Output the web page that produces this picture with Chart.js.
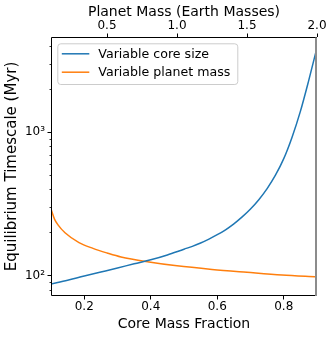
<!DOCTYPE html>
<html lang="en">
<head>
<meta charset="UTF-8">
<title>Equilibrium Timescale</title>
<script src="https://cdn.jsdelivr.net/npm/chart.js@4"></script>
<style>
    html, body { margin: 0; padding: 0; background: #fff; }
    #wrap { width: 333px; height: 337px; }
</style>
</head>
<body>
<div id="wrap"><canvas id="chart" width="333" height="337"></canvas></div>
<script>
    // series 1: timescale vs core mass fraction (bottom axis)
    const coreFraction = [0.10, 0.15, 0.20, 0.25, 0.30, 0.35, 0.40, 0.45, 0.50, 0.525, 0.55, 0.575, 0.60, 0.625, 0.65, 0.675, 0.70, 0.725, 0.75, 0.775, 0.80, 0.825, 0.85, 0.875, 0.90];
    const coreTimescale = [87.5, 93, 99.5, 106, 113, 121, 129, 139.5, 153, 160, 169, 180, 193, 209, 230, 257, 292, 339, 405, 502, 655, 925, 1400, 2296, 3900];

    // series 2: timescale vs planet mass (top axis)
    const planetMass = [0.1, 0.125, 0.15, 0.2, 0.3, 0.4, 0.5, 0.6, 0.8, 1.0, 1.25, 1.5, 1.75, 2.0];
    const massTimescale = [292, 248, 226, 199, 170, 155, 144, 135, 124.5, 117, 110.5, 105.5, 101, 98];

    const seriesLabels = ['Variable core size', 'Variable planet mass'];
    const seriesColors = ['#1f77b4', '#ff7f0e'];

    const coreTicks = [0.2, 0.4, 0.6, 0.8];
    const massTicks = [0.5, 1.0, 1.5, 2.0];
    const yMajor = [100, 1000];
    const yMinor = [80, 90, 200, 300, 400, 500, 600, 700, 800, 900, 2000, 3000, 4000];

    const FONT = 'DejaVu Sans';

    // spines + minor log ticks
    const frame = {
        id: 'frame',
        afterDatasetsDraw(chart) {
            const { ctx, chartArea: a, scales } = chart;
            const l = Math.round(a.left) + 0.5, r = Math.round(a.right), t = Math.round(a.top) + 0.5, b = Math.round(a.bottom) - 0.5;
            ctx.save();
            ctx.strokeStyle = '#000';
            ctx.lineWidth = 1;
            ctx.beginPath();
            ctx.moveTo(l, t); ctx.lineTo(l, b); ctx.lineTo(r, b);
            ctx.moveTo(l, t); ctx.lineTo(r, t);
            ctx.stroke();
            ctx.strokeStyle = '#8c8c8c';
            ctx.lineWidth = 2;
            ctx.beginPath();
            ctx.moveTo(r - 1, t); ctx.lineTo(r - 1, b + 0.5);
            ctx.stroke();
            ctx.strokeStyle = '#000';
            ctx.lineWidth = 0.8;
            yMinor.forEach(v => {
                const y = Math.round(scales.y.getPixelForValue(v)) + 0.5;
                ctx.beginPath();
                ctx.moveTo(l, y); ctx.lineTo(l - 2, y);
                ctx.stroke();
            });
            ctx.restore();
        }
    };

    // matplotlib-style legend box in the upper left
    const boxLegend = {
        id: 'boxLegend',
        afterDraw(chart) {
            const { ctx, chartArea: a } = chart;
            const x0 = a.left + 6.3, y0 = a.top + 6.3, w = 180, h = 40.7;
            ctx.save();
            ctx.fillStyle = 'rgba(255,255,255,0.8)';
            ctx.strokeStyle = '#cccccc';
            ctx.lineWidth = 1;
            ctx.beginPath();
            ctx.roundRect(x0 + 0.5, y0 + 0.5, w, h, 3);
            ctx.fill();
            ctx.stroke();
            ctx.font = '12.6px "' + FONT + '"';
            ctx.textBaseline = 'middle';
            ctx.fillStyle = '#000';
            chart.data.datasets.forEach((ds, i) => {
                const y = y0 + 10.5 + i * 18.4;
                ctx.strokeStyle = ds.borderColor;
                ctx.lineWidth = 1.5;
                ctx.beginPath();
                ctx.moveTo(x0 + 4.5, y); ctx.lineTo(x0 + 32, y);
                ctx.stroke();
                ctx.fillText(ds.label, x0 + 41, y + 0.5);
            });
            ctx.restore();
        }
    };

    const tickFont = { family: FONT, size: 12, lineHeight: 1.2 };
    const titleFont = { family: FONT, size: 14, lineHeight: 1.2 };
    const yTitleFont = { family: FONT, size: 15, lineHeight: 1.2 };

    new Chart(document.getElementById('chart'), {
        type: 'line',
        data: {
            datasets: [
                {
                    label: seriesLabels[0],
                    data: coreFraction.map((x, i) => ({ x: x, y: coreTimescale[i] })),
                    xAxisID: 'x',
                    borderColor: seriesColors[0],
                    borderWidth: 1.5,
                    pointRadius: 0,
                    cubicInterpolationMode: 'monotone',
                    fill: false
                },
                {
                    label: seriesLabels[1],
                    data: planetMass.map((x, i) => ({ x: x, y: massTimescale[i] })),
                    xAxisID: 'x2',
                    borderColor: seriesColors[1],
                    borderWidth: 1.5,
                    pointRadius: 0,
                    cubicInterpolationMode: 'monotone',
                    fill: false
                }
            ]
        },
        options: {
            responsive: false,
            animation: false,
            events: [],
            layout: { padding: { left: 0, right: 16, top: 0, bottom: 0 } },
            plugins: {
                legend: { display: false },
                tooltip: { enabled: false }
            },
            scales: {
                x: {
                    type: 'linear',
                    position: 'bottom',
                    min: 0.1,
                    max: 0.9,
                    afterBuildTicks: s => { s.ticks = coreTicks.map(v => ({ value: v })); },
                    afterFit: s => { s.height = 41; },
                    ticks: { font: tickFont, color: '#000', padding: 0, maxRotation: 0, autoSkip: false, callback: v => v.toFixed(1) },
                    grid: { drawOnChartArea: false, tickLength: 3.5, tickWidth: 1, tickColor: '#000' },
                    border: { display: false },
                    title: { display: true, text: 'Core Mass Fraction', font: titleFont, color: '#000', padding: { top: 0, bottom: 4.6 } }
                },
                x2: {
                    type: 'linear',
                    position: 'top',
                    min: 0.1,
                    max: 2.0,
                    afterBuildTicks: s => { s.ticks = massTicks.map(v => ({ value: v })); },
                    afterFit: s => { s.height = 37; },
                    ticks: { font: tickFont, color: '#000', padding: 0.5, maxRotation: 0, autoSkip: false, callback: v => v.toFixed(1) },
                    grid: { drawOnChartArea: false, tickLength: 3.5, tickWidth: 1, tickColor: '#000' },
                    border: { display: false },
                    title: { display: true, text: 'Planet Mass (Earth Masses)', font: titleFont, color: '#000', padding: { top: 3.6, bottom: 0 } }
                },
                y: {
                    type: 'logarithmic',
                    position: 'left',
                    min: 72.1,
                    max: 4625,
                    afterBuildTicks: s => { s.ticks = yMajor.map(v => ({ value: v })); },
                    afterFit: s => { s.width = 51; },
                    ticks: {
                        font: tickFont, color: '#000', padding: 2.5, autoSkip: false,
                        callback: v => v === 100 ? '10²' : (v === 1000 ? '10³' : '')
                    },
                    grid: { drawOnChartArea: false, tickLength: 3.5, tickWidth: 1, tickColor: '#000' },
                    border: { display: false },
                    title: { display: true, text: 'Equilibrium Timescale (Myr)', font: yTitleFont, color: '#000', padding: { top: 3, bottom: 0 } }
                }
            }
        },
        plugins: [frame, boxLegend]
    });
</script>
</body>
</html>
